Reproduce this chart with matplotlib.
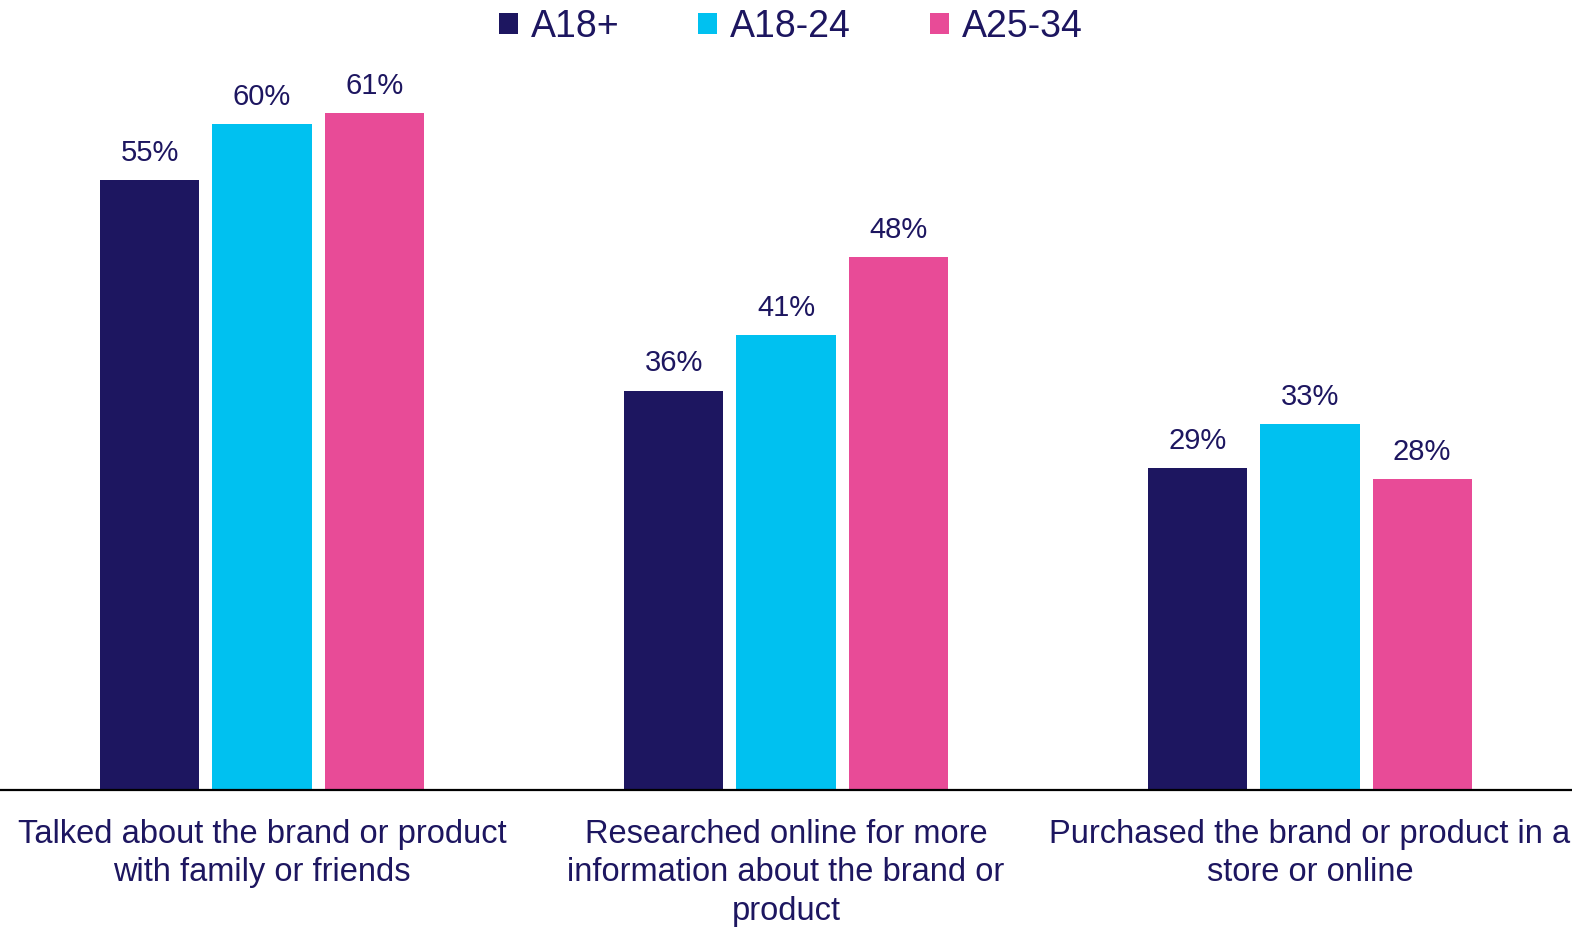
import numpy as np
import matplotlib.pyplot as plt

plt.rcParams['font.family'] = ['Liberation Sans', 'DejaVu Sans']

categories = [
    "Talked about the brand or product\nwith family or friends",
    "Researched online for more\ninformation about the brand or\nproduct",
    "Purchased the brand or product in a\nstore or online",
]
series_names = ["A18+", "A18-24", "A25-34"]
a18_plus = [55, 36, 29]
a18_24 = [60, 41, 33]
a25_34 = [61, 48, 28]

colors = ["#1D1660", "#00C1F0", "#E84B97"]
text_color = "#1D1660"

fig = plt.figure(figsize=(15.72, 9.27), dpi=100)
ax = fig.add_axes([0.0, 0.1478, 1.0, 0.8522])

x = np.arange(len(categories))
width = 0.189
offset = 0.214

handles = []
for i, (vals, name, col) in enumerate(zip([a18_plus, a18_24, a25_34], series_names, colors)):
    bars = ax.bar(x + (i - 1) * offset, vals, width, color=col, label=name)
    handles.append(bars)
    for b, v in zip(bars, vals):
        ax.annotate(f"{v}%", (b.get_x() + b.get_width() / 2, v),
                    xytext=(0, 9.5), textcoords="offset points",
                    ha="center", va="bottom", fontsize=21, color=text_color)

ax.set_xlim(-0.5, 2.5)
ax.set_ylim(0, 71.2)
ax.set_yticks([])
ax.set_xticks(x)
ax.set_xticklabels(categories, fontsize=23.5, color=text_color, linespacing=1.3)
ax.tick_params(axis="x", length=0, pad=21)
for s in ["top", "right", "left"]:
    ax.spines[s].set_visible(False)
ax.spines["bottom"].set_linewidth(1.6)
ax.spines["bottom"].set_color("black")

leg = fig.legend(handles=handles, labels=series_names, loc="upper center",
                 bbox_to_anchor=(0.503, 1.027), ncol=3, frameon=False,
                 fontsize=27, handlelength=0.5, handleheight=0.5,
                 handletextpad=0.35, columnspacing=2.1)
for t in leg.get_texts():
    t.set_color(text_color)

fig.savefig("out.png", dpi=100)
